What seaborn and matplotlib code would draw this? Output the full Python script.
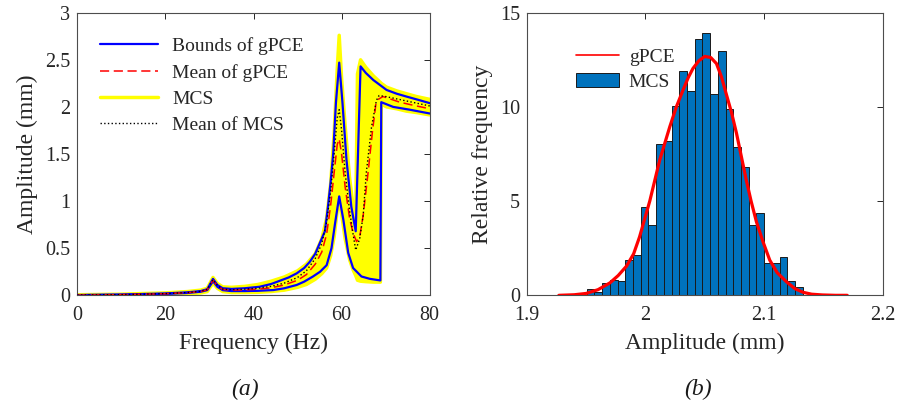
import numpy as np
import pandas as pd
import matplotlib
matplotlib.use("Agg")
import matplotlib.pyplot as plt
import seaborn as sns

# ---------------- data: panel (a) ----------------
freq_ub = [0, 10, 20, 25, 28, 29.5, 30.8, 31.8, 33, 35, 38, 41.4, 44, 46, 48, 49.8, 51.5, 52.8, 54,
           55.1, 56.2, 56.9, 57.5, 58.1, 58.7, 59.45, 60.2, 61.1, 62.2, 63.2, 64.3, 65.5, 67.2, 70.2,
           72.5, 74.7, 77, 80]
amp_ub = [0.003, 0.008, 0.02, 0.032, 0.045, 0.065, 0.175, 0.11, 0.075, 0.068, 0.075, 0.091, 0.12, 0.155,
          0.19, 0.233, 0.29, 0.357, 0.44, 0.56, 0.68, 0.94, 1.2, 1.51, 2.04, 2.47, 2.04, 1.44, 0.94, 0.68,
          2.43, 2.36, 2.285, 2.18, 2.14, 2.11, 2.08, 2.04]

freq_lb = [0, 10, 20, 25, 28, 29.5, 30.8, 31.8, 33, 35, 38, 41, 44.5, 47, 49.8, 51.5, 53.5, 55.1, 56.6,
           57.7, 58.5, 59.45, 60.4, 61.5, 62.6, 64.5, 66.4, 68.8, 69.0, 71.7, 75.5, 80]
amp_lb = [0.002, 0.006, 0.015, 0.025, 0.038, 0.055, 0.15, 0.09, 0.055, 0.045, 0.045, 0.048, 0.056, 0.075,
          0.11, 0.145, 0.2, 0.25, 0.32, 0.5, 0.76, 1.05, 0.8, 0.45, 0.29, 0.2, 0.175, 0.158, 2.05, 2.0,
          1.97, 1.93]

freq_mg = [0, 10, 20, 25, 28, 29.5, 30.8, 31.8, 33, 35, 38, 41, 44, 47, 50, 52, 54, 55.5, 56.6, 57.5,
           58.3, 59.0, 59.45, 60.0, 60.8, 61.8, 62.6, 63.4, 64.1, 64.9, 66.0, 67.0, 67.8, 68.3, 69.4,
           73.2, 76, 80]
amp_mg = [0.0025, 0.007, 0.017, 0.028, 0.04, 0.06, 0.16, 0.1, 0.063, 0.055, 0.058, 0.065, 0.08, 0.11,
          0.16, 0.22, 0.33, 0.46, 0.65, 0.95, 1.3, 1.6, 1.66, 1.5, 1.15, 0.82, 0.66, 0.57, 0.62, 0.85,
          1.3, 1.74, 2.04, 2.08, 2.11, 2.05, 2.02, 1.98]

freq_mm = [0, 10, 20, 25, 28, 29.5, 30.8, 31.8, 33, 35, 38, 41, 44, 47, 50, 52, 54, 55.5, 56.6, 57.5,
           58.3, 59.0, 59.45, 60.0, 60.8, 61.8, 62.6, 63.2, 64.1, 64.9, 65.6, 66.8, 67.9, 68.5, 70,
           73, 76, 80]
amp_mm = [0.0025, 0.007, 0.018, 0.03, 0.042, 0.062, 0.165, 0.105, 0.066, 0.06, 0.065, 0.075, 0.095, 0.13,
          0.19, 0.26, 0.39, 0.55, 0.78, 1.1, 1.5, 1.88, 1.97, 1.75, 1.3, 0.9, 0.65, 0.48, 0.6, 0.85,
          1.3, 1.79, 2.07, 2.12, 2.11, 2.08, 2.05, 2.01]

freq_mcs = [0, 10, 20, 25, 28, 29.5, 30.8, 31.8, 33, 35, 38, 41, 44, 47, 50, 52, 54, 55.5, 56.6, 57.5,
            58.3, 59.0, 59.45, 60.0, 60.8, 61.8, 62.6, 63.2, 63.6, 64.3, 65.5, 67.2, 68.8, 69.0, 70.2,
            72.5, 74.7, 77, 80]
mcs_hi = [0.006, 0.012, 0.026, 0.04, 0.055, 0.075, 0.19, 0.125, 0.09, 0.085, 0.095, 0.115, 0.15, 0.195,
          0.26, 0.33, 0.44, 0.6, 0.82, 1.18, 1.72, 2.4, 2.76, 2.3, 1.8, 1.25, 0.95, 0.8, 2.35, 2.5,
          2.42, 2.33, 2.26, 2.25, 2.21, 2.17, 2.14, 2.11, 2.08]
mcs_lo = [0, 0.002, 0.008, 0.015, 0.025, 0.04, 0.13, 0.075, 0.04, 0.03, 0.03, 0.032, 0.04, 0.055,
          0.085, 0.115, 0.17, 0.23, 0.29, 0.42, 0.62, 0.9, 1.0, 0.86, 0.6, 0.38, 0.27, 0.21, 0.16, 0.15,
          0.145, 0.14, 0.14, 2.03, 2.0, 1.98, 1.955, 1.94, 1.915]

# ---------------- data: panel (b) ----------------
bin_lo = 1.9505
bin_width = 0.0065
mcs_rel_freq = [0.32, 0.19, 0.64, 0.81, 0.78, 1.88, 2.16, 4.67, 3.73, 8.03, 8.21, 10.05, 11.9, 10.84,
                13.6, 13.94, 10.68, 12.98, 9.87, 7.89, 6.83, 3.73, 4.35, 1.70, 1.70, 2.03, 0.78, 0.46]

gpce_x = [1.927, 1.940, 1.950, 1.960, 1.970, 1.977, 1.984, 1.990, 1.995, 2.0036, 2.012, 2.0205, 2.026,
          2.0317, 2.036, 2.040, 2.045, 2.050, 2.055, 2.0598, 2.064, 2.068, 2.0725, 2.0767, 2.081,
          2.085, 2.089, 2.0935, 2.099, 2.1047, 2.111, 2.1188, 2.126, 2.1328, 2.140, 2.149, 2.160, 2.170]
gpce_y = [0.0, 0.03, 0.1, 0.3, 0.66, 1.05, 1.55, 2.2, 3.1, 5.0, 7.18, 8.95, 10.0, 10.9, 11.55, 12.04,
          12.45, 12.68, 12.62, 12.3, 11.6, 10.7, 9.7, 8.6, 7.3, 6.1, 5.0, 3.9, 2.85, 1.87, 1.2, 0.72,
          0.35, 0.16, 0.06, 0.02, 0.0, 0.0]

# ---------------- style ----------------
sns.set_theme(style="white")
plt.rcParams["font.family"] = ["Liberation Serif", "DejaVu Serif"]
plt.rcParams.update({
    "axes.edgecolor": "0.25",
    "axes.linewidth": 0.8,
    "xtick.direction": "in",
    "ytick.direction": "in",
    "xtick.color": "0.15",
    "ytick.color": "0.15",
    "xtick.major.size": 4,
    "ytick.major.size": 4,
    "xtick.major.width": 0.7,
    "ytick.major.width": 0.7,
    "xtick.top": True,
    "ytick.right": True,
})

fig = plt.figure(figsize=(8.99, 4.04), dpi=100)
ax1 = fig.add_axes([0.086, 0.269, 0.392, 0.6996])
ax2 = fig.add_axes([0.586, 0.269, 0.396, 0.6996])

TICK_FS = 14.5
LABEL_FS = 17
LEG_FS = 14

# ---------- panel (a) ----------
yellow = "#FFFF00"
ax1.fill_between(freq_mcs, mcs_lo, mcs_hi, color=yellow, lw=0, zorder=1)
sns.lineplot(x=freq_mcs, y=mcs_hi, ax=ax1, color=yellow, lw=2.5, estimator=None, sort=False,
             label="MCS", zorder=2)
sns.lineplot(x=freq_mcs, y=mcs_lo, ax=ax1, color=yellow, lw=2.5, estimator=None, sort=False, zorder=2)
sns.lineplot(x=freq_ub, y=amp_ub, ax=ax1, color="#0000FF", lw=1.6, estimator=None, sort=False,
             label="Bounds of gPCE", zorder=3)
sns.lineplot(x=freq_lb, y=amp_lb, ax=ax1, color="#0000FF", lw=1.6, estimator=None, sort=False, zorder=3)
sns.lineplot(x=freq_mg, y=amp_mg, ax=ax1, color="#FF0000", lw=1.1, estimator=None, sort=False,
             label="Mean of gPCE", zorder=4)
ax1.lines[-1].set_dashes([6, 3])
sns.lineplot(x=freq_mm, y=amp_mm, ax=ax1, color="black", lw=1.0, estimator=None, sort=False,
             label="Mean of MCS", zorder=5)
ax1.lines[-1].set_linestyle(":")

ax1.set_xlim(0, 80)
ax1.set_ylim(0, 3)
ax1.set_xticks([0, 20, 40, 60, 80])
ax1.set_yticks([0, 0.5, 1, 1.5, 2, 2.5, 3])
ax1.set_yticklabels(["0", "0.5", "1", "1.5", "2", "2.5", "3"])
ax1.tick_params(axis="x", labelsize=TICK_FS, pad=8)
ax1.tick_params(axis="y", labelsize=TICK_FS, pad=5)
ax1.set_xlabel("Frequency (Hz)", fontsize=LABEL_FS, color="0.15", labelpad=5)
ax1.set_ylabel("Amplitude (mm)", fontsize=LABEL_FS, color="0.15", labelpad=5)

h, l = ax1.get_legend_handles_labels()
order = ["Bounds of gPCE", "Mean of gPCE", "MCS", "Mean of MCS"]
hd = dict(zip(l, h))
ax1.legend([hd[k] for k in order], order, loc="upper left", bbox_to_anchor=(0.03, 0.955),
           frameon=False, fontsize=LEG_FS, handlelength=3.0, handletextpad=0.75, labelspacing=0.45,
           borderaxespad=0.2)

# ---------- panel (b) ----------
n_bins = len(mcs_rel_freq)
bin_hi = bin_lo + bin_width * n_bins
hist_df = pd.DataFrame({"amp": bin_lo + bin_width * (np.arange(n_bins) + 0.5), "w": mcs_rel_freq})
sns.histplot(data=hist_df, x="amp", weights="w", bins=n_bins, binrange=(bin_lo, bin_hi), ax=ax2,
             color="#0072BD", alpha=1, edgecolor="#1a1a1a", linewidth=0.7, label="MCS", zorder=2)
sns.lineplot(x=gpce_x, y=gpce_y, ax=ax2, color="#FF0000", lw=2.3, estimator=None, sort=False,
             label="gPCE", zorder=3)
ax2.set_xlim(1.9, 2.2)
ax2.set_ylim(0, 15)
ax2.set_xticks([1.9, 2.0, 2.1, 2.2])
ax2.set_xticklabels(["1.9", "2", "2.1", "2.2"])
ax2.set_yticks([0, 5, 10, 15])
ax2.tick_params(axis="x", labelsize=TICK_FS, pad=8)
ax2.tick_params(axis="y", labelsize=TICK_FS, pad=5)
ax2.set_xlabel("Amplitude (mm)", fontsize=LABEL_FS, color="0.15", labelpad=5)
ax2.set_ylabel("Relative frequency", fontsize=LABEL_FS, color="0.15", labelpad=5)
h2, l2 = ax2.get_legend_handles_labels()
hd2 = dict(zip(l2, h2))
leg2 = ax2.legend([hd2["gPCE"], hd2["MCS"]], ["gPCE", "MCS"], loc="upper left",
                  bbox_to_anchor=(0.09, 0.935), frameon=False, fontsize=LEG_FS, handlelength=2.2,
                  handletextpad=0.5, labelspacing=0.35)
leg2.get_lines()[0].set_linewidth(1.2)

for ax in (ax1, ax2):
    for s in ax.spines.values():
        s.set_visible(True)
        s.set_color("0.3")

fig.text(0.272, 0.022, "(a)", fontsize=17, style="italic", ha="center", color="0.1")
fig.text(0.776, 0.022, "(b)", fontsize=17, style="italic", ha="center", color="0.1")

fig.savefig("out.png", dpi=100)
